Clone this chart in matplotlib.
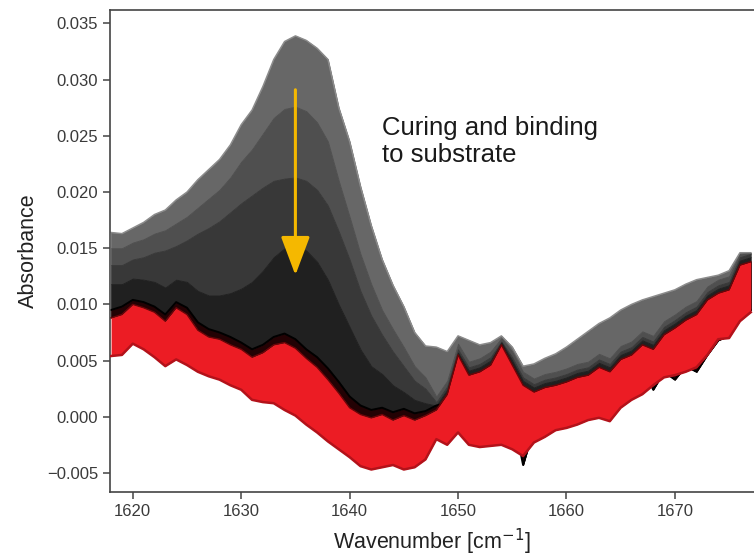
import numpy as np
import matplotlib
matplotlib.use("Agg")
import matplotlib.pyplot as plt

plt.rcParams['font.family'] = ['Liberation Sans', 'DejaVu Sans']

# wavenumber grid, 1 cm-1 steps
wavenumber = np.arange(1618, 1678)

# first spectrum (top envelope, light grey)
grey_top = [
    0.0164, 0.0163, 0.0168, 0.0173, 0.0180, 0.0184, 0.0193, 0.0200, 0.0211, 0.0220,
    0.0229, 0.0242, 0.0260, 0.0273, 0.0294, 0.0318, 0.0334, 0.0339, 0.0335, 0.0328,
    0.0318, 0.0275, 0.0245, 0.0205, 0.0170, 0.0140, 0.0117, 0.0098, 0.0075, 0.0063,
    0.0062, 0.0058, 0.0072, 0.0068, 0.0064, 0.0066, 0.0072, 0.0062, 0.0045, 0.0047,
    0.0052, 0.0056, 0.0062, 0.0069, 0.0076, 0.0083, 0.0088, 0.0095, 0.0100, 0.0104,
    0.0107, 0.0110, 0.0113, 0.0118, 0.0122, 0.0124, 0.0126, 0.0130, 0.0146, 0.0146,
]
# intermediate grey spectra
grey_1 = [
    0.0150, 0.0150, 0.0155, 0.0158, 0.0163, 0.0166, 0.0172, 0.0178, 0.0186, 0.0194,
    0.0202, 0.0213, 0.0227, 0.0238, 0.0252, 0.0266, 0.0274, 0.0276, 0.0272, 0.0262,
    0.0245, 0.0210, 0.0178, 0.0145, 0.0118, 0.0095, 0.0078, 0.0062, 0.0045, 0.0035,
    0.0018, 0.0032, 0.0065, 0.0049, 0.0052, 0.0058, 0.0070, 0.0058, 0.0040, 0.0034,
    0.0038, 0.0040, 0.0043, 0.0047, 0.0049, 0.0056, 0.0052, 0.0063, 0.0067, 0.0076,
    0.0072, 0.0085, 0.0091, 0.0098, 0.0103, 0.0116, 0.0122, 0.0125, 0.0145, 0.0146,
]
grey_2 = [
    0.0135, 0.0135, 0.0140, 0.0142, 0.0146, 0.0148, 0.0152, 0.0157, 0.0163, 0.0168,
    0.0174, 0.0182, 0.0190, 0.0197, 0.0204, 0.0210, 0.0212, 0.0213, 0.0210, 0.0202,
    0.0188, 0.0165, 0.0140, 0.0112, 0.0090, 0.0073, 0.0058, 0.0045, 0.0032, 0.0025,
    0.0013, 0.0027, 0.0060, 0.0044, 0.0047, 0.0053, 0.0067, 0.0053, 0.0035, 0.0029,
    0.0033, 0.0035, 0.0038, 0.0042, 0.0044, 0.0051, 0.0047, 0.0058, 0.0062, 0.0071,
    0.0067, 0.0080, 0.0086, 0.0093, 0.0098, 0.0111, 0.0117, 0.0120, 0.0142, 0.0145,
]
grey_3 = [
    0.0118, 0.0118, 0.0123, 0.0122, 0.0120, 0.0115, 0.0122, 0.0120, 0.0112, 0.0108,
    0.0108, 0.0110, 0.0114, 0.0120, 0.0130, 0.0142, 0.0150, 0.0152, 0.0148, 0.0138,
    0.0122, 0.0100, 0.0080, 0.0060, 0.0045, 0.0038, 0.0028, 0.0022, 0.0015, 0.0012,
    0.0010, 0.0024, 0.0057, 0.0041, 0.0044, 0.0050, 0.0066, 0.0050, 0.0032, 0.0026,
    0.0030, 0.0032, 0.0035, 0.0039, 0.0041, 0.0048, 0.0044, 0.0055, 0.0059, 0.0068,
    0.0064, 0.0077, 0.0083, 0.0090, 0.0095, 0.0108, 0.0114, 0.0117, 0.0139, 0.0142,
]
# last grey spectrum (black)
black_last = [
    0.0095, 0.0098, 0.0104, 0.0102, 0.0098, 0.0091, 0.0102, 0.0097, 0.0084, 0.0078,
    0.0075, 0.0071, 0.0066, 0.0060, 0.0064, 0.0071, 0.0074, 0.0069, 0.0060, 0.0053,
    0.0043, 0.0031, 0.0018, 0.0010, 0.0006, 0.0008, 0.0004, 0.0007, 0.0003, 0.0005,
    0.0010, 0.0012, 0.0030, 0.0028, 0.0030, 0.0034, 0.0040, 0.0005, -0.0043, -0.0010,
    0.0015, 0.0020, 0.0024, 0.0028, 0.0032, 0.0036, 0.0034, 0.0042, 0.0046, 0.0044,
    0.0024, 0.0040, 0.0033, 0.0045, 0.0040, 0.0055, 0.0068, 0.0072, 0.0090, 0.0095,
]
# red spectra (cured), upper and lower envelope
red_top = [
    0.0088, 0.0091, 0.0100, 0.0097, 0.0093, 0.0085, 0.0097, 0.0091, 0.0077, 0.0071,
    0.0069, 0.0064, 0.0060, 0.0053, 0.0057, 0.0064, 0.0066, 0.0061, 0.0052, 0.0044,
    0.0033, 0.0021, 0.0008, 0.0002, -0.0001, 0.0002, -0.0003, 0.0001, -0.0003, 0.0001,
    0.0006, 0.0020, 0.0055, 0.0037, 0.0040, 0.0046, 0.0064, 0.0046, 0.0028, 0.0022,
    0.0026, 0.0028, 0.0031, 0.0035, 0.0037, 0.0044, 0.0040, 0.0051, 0.0055, 0.0064,
    0.0060, 0.0073, 0.0079, 0.0086, 0.0091, 0.0104, 0.0110, 0.0113, 0.0135, 0.0138,
]
red_bottom = [
    0.0054, 0.0055, 0.0065, 0.0060, 0.0053, 0.0045, 0.0051, 0.0046, 0.0040, 0.0036,
    0.0033, 0.0028, 0.0024, 0.0015, 0.0013, 0.0012, 0.0006, 0.0001, -0.0007, -0.0014,
    -0.0022, -0.0029, -0.0036, -0.0044, -0.0047, -0.0045, -0.0043, -0.0047, -0.0045, -0.0038,
    -0.0020, -0.0025, -0.0014, -0.0025, -0.0027, -0.0026, -0.0025, -0.0029, -0.0035, -0.0023,
    -0.0018, -0.0012, -0.0010, -0.0007, -0.0003, -0.0001, -0.0004, 0.0008, 0.0015, 0.0020,
    0.0028, 0.0035, 0.0037, 0.0040, 0.0044, 0.0055, 0.0069, 0.0070, 0.0085, 0.0093,
]

fig = plt.figure(figsize=(7.54, 5.59), dpi=100)
ax = fig.add_axes([0.1459, 0.1199, 0.8541, 0.8622])

# grey family, light to dark
greys = [grey_top, grey_1, grey_2, grey_3, black_last]
band_colors = ['#676767', '#4f4f4f', '#383838', '#202020']
for upper, lower, c in zip(greys[:-1], greys[1:], band_colors):
    ax.fill_between(wavenumber, lower, upper, color=c, lw=0.6, edgecolor=c, zorder=1)
ax.fill_between(wavenumber, red_top, black_last, color='#230204', lw=0.6,
                edgecolor='#230204', zorder=1)
ax.plot(wavenumber, grey_top, color='#8c8c8c', lw=1.0, zorder=2)
ax.plot(wavenumber, black_last, color='black', lw=1.4, zorder=2)

# red family
ax.fill_between(wavenumber, red_bottom, red_top, color='#ec1c24', lw=0, zorder=3)
ax.plot(wavenumber, red_top, color='#6a0508', lw=1.0, zorder=4)
ax.plot(wavenumber, red_bottom, color='#b3121a', lw=1.8, zorder=4)

ax.annotate('', xy=(1635, 0.0126), xytext=(1635, 0.0291),
            arrowprops=dict(arrowstyle='-|>,head_length=1.2,head_width=0.45',
                            color='#f5b800', lw=2.2, mutation_scale=20,
                            shrinkA=0, shrinkB=0), zorder=5)
ax.text(1642.95, 0.0245, 'Curing and binding\nto substrate', fontsize=18.5,
        color='#1a1a1a', va='center', ha='left', linespacing=1.2)

ax.set_xlim(1617.9, 1677.3)
ax.set_ylim(-0.0067, 0.0362)
ax.set_xticks([1620, 1630, 1640, 1650, 1660, 1670])
ax.set_yticks([-0.005, 0.0, 0.005, 0.010, 0.015, 0.020, 0.025, 0.030, 0.035])
ax.yaxis.set_major_formatter(plt.FuncFormatter(lambda v, p: f'{v:.3f}'.replace('-', '\u2212')))
ax.tick_params(labelsize=12, colors='#444444', labelcolor='#3a3a3a', length=5, width=1.1)
for s in ['left', 'bottom', 'top']:
    ax.spines[s].set_color('#444444')
    ax.spines[s].set_linewidth(1.2)
ax.spines['right'].set_visible(False)
ax.set_xlabel('Wavenumber [cm$^{-1}$]', fontsize=15.5, color='#222222', labelpad=6)
ax.set_ylabel('Absorbance', fontsize=15.5, color='#222222', labelpad=6)

fig.savefig('out.png', dpi=100)
